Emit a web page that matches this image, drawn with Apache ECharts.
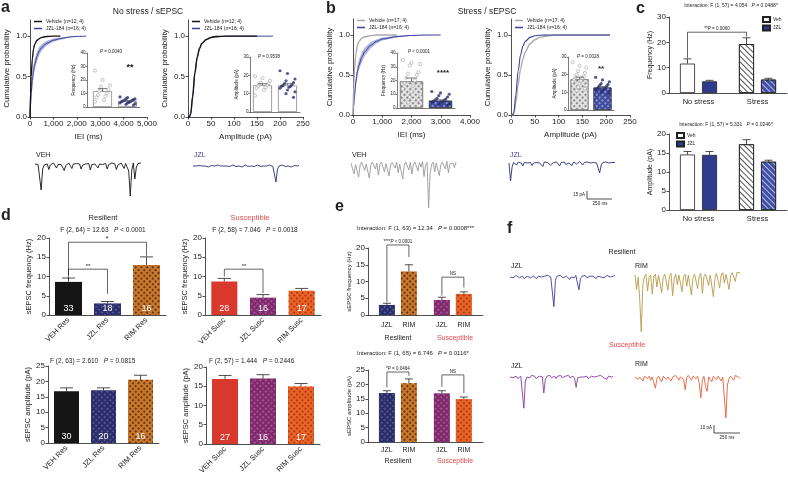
<!DOCTYPE html>
<html><head><meta charset="utf-8"><title>sEPSC figure</title>
<script src="https://cdn.jsdelivr.net/npm/echarts@6.0.0/dist/echarts.min.js"></script>
<style>html,body{margin:0;padding:0;background:#fff;}#chart{width:788px;height:477px;}</style>
</head><body><div id="chart"></div>
<script>
// ================= DATA =================
// a: no stress, cumulative distributions
const aIeiX      = [0,25,50,100,150,200,300,400,500,700,1000,1300,1700,2000,2400];
const aIeiVeh    = [0,0.30,0.50,0.72,0.84,0.90,0.95,0.97,0.985,0.995,1,1,null,null,null];
const aIeiJzl    = [0,0.15,0.28,0.45,0.57,0.65,0.75,0.82,0.86,0.91,0.95,0.97,0.99,0.997,1];
const aIeiJzlHi  = [0,0.20,0.35,0.53,0.64,0.72,0.81,0.87,0.90,0.94,0.97,0.985,0.996,1,1];
const aIeiJzlLo  = [0,0.11,0.22,0.38,0.50,0.58,0.69,0.77,0.82,0.88,0.93,0.955,0.984,0.994,1];
const aAmpX      = [0,3,6,10,15,20,25,30,40,50,60,80,100,150,185];
const aAmpVeh    = [0,0,0.04,0.25,0.55,0.74,0.85,0.91,0.96,0.985,0.995,1,1,1,null];
const aAmpJzl    = [0,0,0.04,0.24,0.54,0.73,0.84,0.905,0.955,0.98,0.99,0.998,1,1,1];
// a insets
const aFreqMean = [11.8, 4.3], aFreqSem = [1.8, 0.5];
const aFreqVehCells = [27,20,16,15,13,12,10,9,8,7,5,4];
const aFreqJzlCells = [7.5,7,6,6,5.5,5,5,4.5,4,4,3.5,3,3,2.5,2,1.5];
const aAmpMean = [14.6, 14.5], aAmpSem = [0.8, 0.9];
const aAmpVehCells = [19.5,18.5,17,16,15.5,15,14.5,14,13.5,13,12,9];
const aAmpJzlCells = [22.5,21,18,17,16,15.5,15,14.5,14,14,13.5,13,12,11,10,8];
// b: stress, cumulative distributions
const bIeiX      = [0,25,50,100,150,200,300,400,600,800,1000,1500,2000,2500,3000];
const bIeiVeh    = [0,0.36,0.56,0.77,0.87,0.92,0.96,0.978,0.992,1,1,1,null,null,null];
const bIeiJzl    = [0,0.12,0.24,0.42,0.54,0.62,0.72,0.79,0.87,0.92,0.95,0.98,0.995,1,1];
const bIeiJzlHi  = [0,0.16,0.30,0.49,0.61,0.69,0.78,0.84,0.91,0.945,0.97,0.99,1,1,1];
const bIeiJzlLo  = [0,0.09,0.19,0.36,0.48,0.56,0.66,0.74,0.83,0.895,0.93,0.97,0.99,0.998,1];
const bAmpX      = [0,3,6,10,15,20,25,30,40,50,60,80,100,150,208];
const bAmpVeh    = [0,0,0.02,0.15,0.38,0.57,0.70,0.79,0.89,0.94,0.97,0.99,1,1,1];
const bAmpJzl    = [0,0,0.03,0.25,0.55,0.75,0.86,0.92,0.97,0.99,0.996,1,1,1,1];
// b insets
const bFreqMean = [19.3, 5.3], bFreqSem = [2.5, 0.6];
const bFreqVehCells = [35,33,32,31,26,25,24,22,20,18,16,14,12,10,8,6,4];
const bFreqJzlCells = [12,11,10,9,8,7,6.5,6,5.5,5,4.5,4,3.5,3,2.5,2];
const bAmpMean = [17.4, 12.7], bAmpSem = [1.2, 0.5];
const bAmpVehCells = [27,25,24,22,21,20,19,18.5,18,17,16.5,16,15,14,13,12,11];
const bAmpJzlCells = [18.5,17,16,15,14.5,14,13.5,13,12.5,12,12,11.5,11,10.5,10,9];
// c: interaction
const cCats = ['No stress','Stress'];
const cFreqVeh = [11.6, 19.3], cFreqVehSem = [1.9, 2.5];
const cFreqJzl = [4.6, 5.3],   cFreqJzlSem = [0.4, 0.5];
const cAmpVeh  = [14.6, 17.3], cAmpVehSem  = [0.8, 1.2];
const cAmpJzl  = [14.5, 12.7], cAmpJzlSem  = [0.9, 0.4];
// d: resilient / susceptible
const dResCats = ['VEH Res','JZL Res','RIM Res'];
const dSusCats = ['VEH Susc','JZL Susc','RIM Susc'];
const dResFreq = [8.6, 3.0, 13.0], dResFreqSem = [1.0, 0.5, 2.1], dResFreqN = [33, 18, 16];
const dSusFreq = [8.7, 4.5, 6.3],  dSusFreqSem = [0.8, 0.8, 0.6], dSusFreqN = [28, 16, 17];
const dResAmp  = [16.8, 17.1, 20.5], dResAmpSem = [1.1, 0.8, 1.5], dResAmpN = [30, 20, 16];
const dSusAmp  = [16.9, 17.0, 14.9], dSusAmpSem = [0.9, 1.0, 0.8], dSusAmpN = [27, 16, 17];
// e: JZL vs RIM
const eLabels = ['JZL','RIM','JZL','RIM'];
const eGroups = ['Resilient','Susceptible'];
const eFreq = [3.0, 13.0, 4.5, 6.3], eFreqSem = [0.5, 2.0, 0.8, 0.6];
const eAmp  = [17.0, 20.4, 16.9, 14.9], eAmpSem = [0.8, 1.5, 0.9, 0.7];
// example traces (pA)
const trAVeh = [0,1,-1,-4,-52,-10,-2,1,0,-11,-2,1,2,0,-8,-1,1,-1,0,-13,-3,1,2,1,-9,0,-1,1,2,0,-10,-2,1,0,3,1,-12,-1,1,0,2,-8,0,1,-1,2,1,-10,-1,0,2,1,0,-11,-2,1,2,0,-9,1,0,-14,-64,-12,2,-30,-6,1,0,2];
const trAJzl = [0,1,0,-1,1,2,0,-1,0,1,-2,0,1,1,0,-1,2,1,0,-2,0,1,0,1,-1,0,2,1,-1,0,0,1,-2,1,2,0,-1,1,0,1,-1,0,2,0,-1,1,0,-3,0,1,2,0,-1,0,-32,-6,0,1,2,0,-1,1,0,1,-2,0,1,2,0,1];
const trBVeh = [0,2,-22,-3,1,-28,-4,2,0,-15,-2,1,-30,-5,2,1,-12,0,-24,-3,2,0,-18,-1,3,-26,-4,1,0,-10,2,-20,-2,1,-32,-5,2,0,-14,1,-22,-3,2,0,-16,1,-8,3,-27,-4,1,-90,-20,-3,2,-18,0,1,-25,-4,2,0,-12,3,-20,-2,1,0,-9,2];
const trBJzl = [0,-36,-8,1,0,-4,2,1,0,-6,1,3,0,-2,1,-5,0,2,1,-3,0,1,-7,2,0,1,3,-4,0,1,-2,2,0,-6,1,0,2,-3,1,0,1,-5,2,0,-2,1,3,0,-4,1,0,2,-1,0,-3,1,2,0,-2,-20,-4,1,0,2,1,0,-2,1,0,1];
const trFJzlRes = [0,1,-1,0,2,1,-1,0,1,-2,0,1,2,-1,0,1,0,-2,1,2,0,-1,1,0,2,1,0,-1,-37,-4,1,0,2,1,-1,0,1,2,-3,0,1,-1,2,0,-16,-2,1,0,2,-1,0,1,2,1,0,-2,1,2,0,1,-1,0,2,1,0,-1,1,2];
const trFRimRes = [0,-18,-3,-30,-71,-12,-2,1,-20,-3,0,-24,-2,1,-15,0,2,-22,-3,1,0,-19,-1,2,-26,-4,1,-12,0,2,-21,-2,1,-14,0,2,-25,-3,1,0,-17,-1,2,-23,-2,1,3,-13,0,2,-27,-4,2,1,-16,0,3,-10,1,2,-18,-1,3,2,-8,3,2,3];
const trFJzlSus = [0,1,-1,0,1,-2,0,1,2,-39,-5,0,1,-1,2,0,1,-2,0,1,2,0,-20,-3,1,0,2,-1,0,1,-2,1,0,2,-1,0,1,0,2,-1,0,1,-2,-13,-1,1,0,2,0,-1,1,-2,0,1,2,0,-1,1,0,2,1,-1,0,-3,1,2,0,1];
const trFRimSus = [0,1,-3,0,2,-5,1,0,-2,1,-4,0,2,-14,-2,1,0,-6,1,2,-3,0,1,-5,0,-2,2,1,-4,0,1,-3,-16,-1,2,0,-4,1,0,-2,1,-8,-26,-4,1,-12,-18,0,2,-6,1,0,-3,1,2,-5,0,1,-51,-10,-2,1,0,-4,2,1,0,-2];

// ================= STYLE / BUILD =================
const FONT = '"Liberation Sans", Arial, Helvetica, sans-serif';
const INK = '#222';
const COL = {black:'#151515', navy:'#2b2e72', blue:'#3a3f9c', band:'#aeb1da', grey:'#a9a9a9',
  rim:'#c8792c', rimDark:'#6a3512', red:'#d9382c', purple:'#7d2a6a', purpleL:'#a84e93',
  orange:'#ea6429', orangeDark:'#b13c10', tan:'#b89a48', traceRed:'#e8603a', traceSus:'#e04a4a'};
const grids=[], xAxis=[], yAxis=[], series=[], graphic=[], legend=[];

function merge(a,b){for(const k in b){const v=b[k];if(v&&typeof v==='object'&&!Array.isArray(v)&&a[k]&&typeof a[k]==='object'&&!Array.isArray(a[k]))merge(a[k],v);else a[k]=v;}return a;}
function mkGrid(l,t,w,h){grids.push({left:l,top:t,width:w,height:h});return grids.length-1;}
function axis(type,g,o){
  const base={type,gridIndex:g,axisLine:{show:true,onZero:false,lineStyle:{color:INK,width:0.8}},
    axisTick:{show:true,length:2.5,lineStyle:{color:INK,width:0.8}},splitLine:{show:false},
    axisLabel:{fontSize:8,color:INK,fontFamily:FONT,margin:3},
    nameTextStyle:{fontSize:8,color:INK,fontFamily:FONT}};
  return merge(base,o||{});
}
function addX(o){xAxis.push(o);return xAxis.length-1;}
function addY(o){yAxis.push(o);return yAxis.length-1;}
function text(x,y,str,o){o=o||{};const fs=o.size||8;const c=o.color||INK;
  graphic.push({type:'text',x,y,silent:true,z:50,style:{text:str,fontSize:fs,fontFamily:FONT,fill:c,
    fontWeight:o.bold?'bold':'normal',align:o.align||'center',verticalAlign:o.va||'middle',
    rich:{i:{fontStyle:'italic',fontSize:fs,fontFamily:FONT,fill:c}}}});}
function seg(x1,y1,x2,y2,w){graphic.push({type:'line',silent:true,z:50,shape:{x1,y1,x2,y2},style:{stroke:INK,lineWidth:w||0.8}});}
function hatch(c){return {symbol:'rect',symbolSize:1,color:c,dashArrayX:[1,0],dashArrayY:[1,2.2],rotation:Math.PI/4};}
function check(c){return {symbol:'rect',symbolSize:1,color:c,dashArrayX:[1.4,1.4],dashArrayY:[1.4,1.4],rotation:Math.PI/4};}

function errBars(xi,yi,pts,cap,color){
  series.push({type:'custom',xAxisIndex:xi,yAxisIndex:yi,data:pts,z:4,silent:true,clip:false,
    renderItem:(p,api)=>{const off=api.value(3)||0;const a=api.coord([api.value(0),api.value(1)]);
      const b=api.coord([api.value(0),api.value(1)+api.value(2)]);const x=a[0]+off;
      const st={stroke:color||INK,lineWidth:0.8};
      return {type:'group',children:[{type:'line',shape:{x1:x,y1:a[1],x2:x,y2:b[1]},style:st},
        {type:'line',shape:{x1:x-cap/2,y1:b[1],x2:x+cap/2,y2:b[1]},style:st}]};}});
}
function bracket(xi,yi,b,label,fs){
  series.push({type:'custom',xAxisIndex:xi,yAxisIndex:yi,data:[b],z:5,silent:true,clip:false,
    renderItem:(p,api)=>{const o1=api.value(5)||0,o2=api.value(6)||0;
      const p1=api.coord([api.value(0),api.value(1)]),t1=api.coord([api.value(0),api.value(2)]),p2=api.coord([api.value(3),api.value(4)]);
      const x1=p1[0]+o1,x2=p2[0]+o2;const f=fs||5;
      const ch=[{type:'polyline',shape:{points:[[x1,p1[1]],[x1,t1[1]],[x2,t1[1]],[x2,p2[1]]]},style:{stroke:INK,lineWidth:0.7,fill:'none'}}];
      if(label)ch.push({type:'text',x:(x1+x2)/2,y:t1[1]-1,style:{text:label,fontSize:f,fontFamily:FONT,fill:INK,align:'center',verticalAlign:'bottom',rich:{i:{fontStyle:'italic',fontSize:f,fontFamily:FONT,fill:INK}}}});
      return {type:'group',children:ch};}});
}
function band(xi,yi,xs,lo,hi,color){
  series.push({type:'custom',xAxisIndex:xi,yAxisIndex:yi,data:[[0,0]],z:1,silent:true,
    renderItem:(p,api)=>{const pts=[];xs.forEach((x,i)=>pts.push(api.coord([x,hi[i]])));
      for(let i=xs.length-1;i>=0;i--)pts.push(api.coord([xs[i],lo[i]]));
      return {type:'polygon',shape:{points:pts},style:{fill:color}};}});
}
function cdf(l,t,w,h,xmax,xint,xname,curves){
  const g=mkGrid(l,t,w,h);
  const xi=addX(axis('value',g,{min:0,max:xmax,interval:xint,name:xname,nameLocation:'middle',nameGap:16,
    axisLabel:{formatter:v=>v.toLocaleString('en-US')}}));
  const yi=addY(axis('value',g,{min:0,max:1.2,name:'Cumulative probability',nameLocation:'middle',nameGap:19,
    axisTick:{customValues:[0,0.5,1]},axisLabel:{customValues:[0,0.5,1],formatter:v=>v.toFixed(1)}}));
  curves.forEach(c=>{
    if(c.lo)band(xi,yi,c.x,c.lo,c.hi,c.band);
    series.push({type:'line',name:c.name,xAxisIndex:xi,yAxisIndex:yi,data:c.x.map((x,i)=>[x,c.y[i]]),
      symbol:'none',smooth:0.3,smoothMonotone:'x',lineStyle:{color:c.color,width:c.width||1.1},
      itemStyle:{color:c.color},z:c.z||3});
  });
}
function jit(i){return (((i*5)%11)-5)/5*0.3;}
function inset(l,t,w,h,xmin,xmax,ymax,yname,means,sems,cellsArr,barStyles,ptStyles,bw){
  const g=mkGrid(l,t,w,h);
  const xi=addX(axis('value',g,{min:xmin,max:xmax,axisTick:{show:false},axisLabel:{show:false},axisLine:{lineStyle:{width:0.6}}}));
  const yi=addY(axis('value',g,{min:0,max:ymax,interval:10,name:yname,nameLocation:'middle',nameGap:8,
    nameTextStyle:{fontSize:4.5},axisTick:{length:1.5,lineStyle:{width:0.6}},axisLine:{lineStyle:{width:0.6}},axisLabel:{fontSize:4.5,margin:1.5}}));
  series.push({type:'bar',xAxisIndex:xi,yAxisIndex:yi,barWidth:bw,z:2,
    data:means.map((m,i)=>({value:[i+1,m],itemStyle:barStyles[i]}))});
  errBars(xi,yi,means.map((m,i)=>[i+1,m,sems[i],0]),bw*0.5,'#555');
  cellsArr.forEach((cells,k)=>series.push({type:'scatter',xAxisIndex:xi,yAxisIndex:yi,symbolSize:3.2,z:3,
    itemStyle:ptStyles[k],data:cells.map((v,i)=>[k+1+jit(i),v])}));
}
function trace(l,base,w,arr,color,ppu,ymin,ymax){
  const g=mkGrid(l,base-ymax*ppu,w,(ymax-ymin)*ppu);
  const xi=addX({type:'value',gridIndex:g,min:0,max:arr.length-1,show:false});
  const yi=addY({type:'value',gridIndex:g,min:ymin,max:ymax,show:false});
  series.push({type:'line',xAxisIndex:xi,yAxisIndex:yi,data:arr.map((v,i)=>[i,v]),symbol:'none',
    lineStyle:{color,width:0.9},z:3,silent:true});
}
function dPanel(l,t,w,h,cats,vals,sems,ns,styles,ymax,yname,nameGap,bw){
  const g=mkGrid(l,t,w,h);
  const xi=addX(axis('category',g,{data:cats,axisTick:{show:false},axisLabel:{rotate:45,fontSize:7.5,margin:4,interval:0}}));
  const yi=addY(axis('value',g,{min:0,max:ymax,interval:5,name:yname,nameLocation:'middle',nameGap:nameGap,nameTextStyle:{fontSize:7.5}}));
  series.push({type:'bar',xAxisIndex:xi,yAxisIndex:yi,barWidth:bw,z:2,
    data:vals.map((v,i)=>({value:v,itemStyle:styles[i]})),
    label:{show:true,position:'insideBottom',distance:2,color:'#fff',fontSize:9,fontFamily:FONT,formatter:p=>String(ns[p.dataIndex])}});
  errBars(xi,yi,vals.map((v,i)=>[i,v,sems[i],0]),13,INK);
  return {xi,yi};
}

// ---------- panel letters & titles ----------
text(1,8,'a',{size:16,bold:true,align:'left'});
text(326,9,'b',{size:16,bold:true,align:'left'});
text(636,9,'c',{size:16,bold:true,align:'left'});
text(1,216,'d',{size:16,bold:true,align:'left'});
text(335,207,'e',{size:16,bold:true,align:'left'});
text(507,229,'f',{size:16,bold:true,align:'left'});
text(148,12,'No stress / sEPSC',{size:8.5});
text(487,12,'Stress / sEPSC',{size:8.5});

// ---------- a ----------
const legA = ['Vehicle (n=12; 4)','JZL-184 (n=16; 4)'];
const legB = ['Vehicle (n=17; 4)','JZL-184 (n=16; 4)'];
cdf(30,20,117,97,5000,1000,'IEI (ms)',[
  {x:aIeiX,y:aIeiJzl,lo:aIeiJzlLo,hi:aIeiJzlHi,band:COL.band,color:COL.blue,name:legA[1],width:1},
  {x:aIeiX,y:aIeiVeh,color:COL.black,name:legA[0],width:1.4,z:4}]);
cdf(188,20,115,97,250,50,'Amplitude (pA)',[
  {x:aAmpX,y:aAmpJzl,color:COL.blue,name:legA[1],width:1},
  {x:aAmpX,y:aAmpVeh,color:COL.black,name:legA[0],width:1.4,z:4}]);
const openPt={color:'#fff',borderColor:'#999',borderWidth:0.7};
const navyPt={color:COL.navy};
const whiteBar={color:'#fff',borderColor:'#888',borderWidth:0.8};
inset(87,53,53,54,0.38,2.5,40,'Frequency (Hz)',aFreqMean,aFreqSem,[aFreqVehCells,aFreqJzlCells],[whiteBar,whiteBar],[openPt,navyPt],19);
inset(250,57,50,55,0.5,2.5,30,'Amplitude (pA)',aAmpMean,aAmpSem,[aAmpVehCells,aAmpJzlCells],[whiteBar,whiteBar],[openPt,navyPt],19);
text(100,52,'{i|P} = 0.0040',{size:4.5,align:'left'});
text(130,68,'**',{size:9,bold:true});
text(258,57,'{i|P} = 0.9538',{size:4.5,align:'left'});

// ---------- b ----------
cdf(353,19,117,96,4000,1000,'IEI (ms)',[
  {x:bIeiX,y:bIeiJzl,lo:bIeiJzlLo,hi:bIeiJzlHi,band:COL.band,color:COL.blue,name:legB[1],width:1},
  {x:bIeiX,y:bIeiVeh,color:COL.grey,name:legB[0],width:1.4,z:4}]);
cdf(511,19,119,96,250,50,'Amplitude (pA)',[
  {x:bAmpX,y:bAmpVeh,color:COL.grey,name:legB[0],width:1.4},
  {x:bAmpX,y:bAmpJzl,color:COL.blue,name:legB[1],width:1.1,z:4}]);
const greyHatchBar={color:'#e2e2e2',borderColor:'#777',borderWidth:0.6,decal:check('#8a8a8a')};
const blueHatchBar={color:'#3d4aa0',borderColor:'#333',borderWidth:0.6,decal:check('#8d94cc')};
inset(397,53,58,55,0.5,2.5,40,'Frequency (Hz)',bFreqMean,bFreqSem,[bFreqVehCells,bFreqJzlCells],[greyHatchBar,blueHatchBar],[openPt,navyPt],23);
inset(568,57,46,53,0.5,2.5,30,'Amplitude (pA)',bAmpMean,bAmpSem,[bAmpVehCells,bAmpJzlCells],[greyHatchBar,blueHatchBar],[openPt,navyPt],18);
text(408,52,'{i|P} < 0.0001',{size:4.5,align:'left'});
text(443,73,'****',{size:8,bold:true});
text(577,57,'{i|P} = 0.0028',{size:4.5,align:'left'});
text(601,69,'**',{size:8,bold:true});

// legends
const legCommon={orient:'vertical',itemWidth:8,itemHeight:1.5,itemGap:2,icon:'rect',selectedMode:false,padding:0,
  textStyle:{fontSize:5,fontFamily:FONT,color:INK,padding:[0,0,0,-1]}};
legend.push(merge({data:legA,left:34,top:19},JSON.parse(JSON.stringify(legCommon))));
legend.push(merge({data:legA,left:192,top:19},JSON.parse(JSON.stringify(legCommon))));
legend.push(merge({data:legB,left:357,top:18},JSON.parse(JSON.stringify(legCommon))));
legend.push(merge({data:legB,left:515,top:18},JSON.parse(JSON.stringify(legCommon))));

// traces a/b
trace(35,164,106,trAVeh,COL.black,0.5,-70,6);
trace(193,166,106,trAJzl,COL.navy,0.5,-70,6);
trace(351,163,105,trBVeh,'#9a9a9a',0.5,-95,6);
trace(509,163,106,trBJzl,COL.navy,0.5,-95,6);
text(36,155,'VEH',{size:7,align:'left'});
text(194,155,'JZL',{size:7,align:'left',color:COL.blue});
text(352,155,'VEH',{size:7,align:'left'});
text(510,155,'JZL',{size:7,align:'left',color:COL.blue});
seg(587,191,587,199);seg(587,199,612,199);
text(585,195,'15 pA',{size:4.5,align:'right'});
text(600,204,'250 ms',{size:4.5});

// ---------- c ----------
function cPanel(t,ymax,yint,yname,veh,vehSem,jzl,jzlSem){
  const g=mkGrid(669,t,118,76);
  const xi=addX(axis('category',g,{data:cCats,axisTick:{show:false},axisLabel:{fontSize:7.5,margin:5}}));
  const yi=addY(axis('value',g,{min:0,max:ymax,interval:yint,name:yname,nameLocation:'middle',nameGap:15,nameTextStyle:{fontSize:7}}));
  series.push({type:'bar',name:'Veh',xAxisIndex:xi,yAxisIndex:yi,barWidth:15,barGap:'47%',z:2,
    itemStyle:{color:'#fff',borderColor:INK,borderWidth:0.8},
    data:[{value:veh[0]},{value:veh[1],itemStyle:{color:'#fff',decal:hatch('#555')}}]});
  series.push({type:'bar',name:'JZL',xAxisIndex:xi,yAxisIndex:yi,barWidth:15,z:2,
    itemStyle:{color:'#2e3a8c',borderColor:INK,borderWidth:0.8},
    data:[{value:jzl[0]},{value:jzl[1],itemStyle:{color:'#4250a4',decal:hatch('#b3b9e6')}}]});
  errBars(xi,yi,[[0,veh[0],vehSem[0],-11],[1,veh[1],vehSem[1],-11],[0,jzl[0],jzlSem[0],11],[1,jzl[1],jzlSem[1],11]],8,INK);
  return {xi,yi};
}
const cTop=cPanel(17,30,10,'Frequency (Hz)',cFreqVeh,cFreqVehSem,cFreqJzl,cFreqJzlSem);
bracket(cTop.xi,cTop.yi,[0,13.9,24,1,22.3,-11,-11],'**{i|P} = 0.0060',4.5);
cPanel(134,20,5,'Amplitude (pA)',cAmpVeh,cAmpVehSem,cAmpJzl,cAmpJzlSem);
text(731,6,'Interaction: F (1, 57) = 4.054   {i|P} = 0.0488*',{size:5});
text(726,125,'Interaction: F (1, 57) = 5.331   {i|P} = 0.0246*',{size:5});
const legC={orient:'vertical',itemWidth:7,itemHeight:5,itemGap:1.5,icon:'rect',selectedMode:false,padding:0,
  data:['Veh','JZL'],textStyle:{fontSize:5,fontFamily:FONT,color:INK,padding:[0,0,0,-2]}};
legend.push(merge({left:762,top:16},JSON.parse(JSON.stringify(legC))));
legend.push(merge({left:676,top:132},JSON.parse(JSON.stringify(legC))));

// ---------- d ----------
const dResStyles=[{color:COL.black},{color:'#2a2c66',decal:check('#4f539a')},{color:COL.rim,decal:check(COL.rimDark)}];
const dSusStyles=[{color:COL.red},{color:COL.purple,decal:check(COL.purpleL)},{color:COL.orange,decal:check(COL.orangeDark)}];
const d1=dPanel(49,238,117,77,dResCats,dResFreq,dResFreqSem,dResFreqN,dResStyles,20,'sEPSC frequency (Hz)',15,27);
bracket(d1.xi,d1.yi,[0,9.3,18.9,2,15.4],null);
bracket(d1.xi,d1.yi,[0,10.4,11.9,1,5.5],null);
text(107,239,'*',{size:7});
text(88,266,'**',{size:6});
const d2=dPanel(205,238,116,77,dSusCats,dSusFreq,dSusFreqSem,dSusFreqN,dSusStyles,20,'sEPSC frequency (Hz)',15,26);
bracket(d2.xi,d2.yi,[0,10.0,11.9,1,5.7],null);
text(244,266,'**',{size:6});
dPanel(48,366,111,77,dResCats,dResAmp,dResAmpSem,dResAmpN,dResStyles,25,'sEPSC amplitude (pA)',15,25);
dPanel(206,367,114,77,dSusCats,dSusAmp,dSusAmpSem,dSusAmpN,dSusStyles,20,'sEPSC amplitude (pA)',16,26);
text(103,218,'Resilient',{size:7.5});
text(103,230,'F (2, 64) = 12.63   {i|P} < 0.0001',{size:6.5});
text(250,218,'Susceptible',{size:7.5,color:COL.traceSus});
text(255,230,'F (2, 58) = 7.046   {i|P} = 0.0018',{size:6.5});
text(50,361,'F (2, 63) = 2.610   {i|P} = 0.0815',{size:6.5,align:'left'});
text(209,361,'F (2, 57) = 1.444   {i|P} = 0.2446',{size:6.5,align:'left'});

// ---------- e ----------
const ePos=eLabels.map((_,i)=>i+1+(i>=2?0.5:0));
const eStyles=[{color:'#2a2c66',decal:check('#4f539a')},{color:COL.rim,decal:check(COL.rimDark)},{color:COL.purple,decal:check(COL.purpleL)},{color:COL.orange,decal:check(COL.orangeDark)}];
function ePanel(t,h,ymax,vals,sems,yname,lm){
  const g=mkGrid(368,t,115,h);
  const xi=addX(axis('value',g,{min:0.14,max:5.37,axisTick:{show:false},
    axisLabel:{customValues:ePos,fontSize:7,margin:lm,formatter:v=>eLabels[ePos.indexOf(v)]||''}}));
  const yi=addY(axis('value',g,{min:0,max:ymax,interval:5,name:yname,nameLocation:'middle',nameGap:12,nameTextStyle:{fontSize:6}}));
  series.push({type:'bar',xAxisIndex:xi,yAxisIndex:yi,barWidth:16,z:2,data:vals.map((v,i)=>({value:[ePos[i],v],itemStyle:eStyles[i]}))});
  errBars(xi,yi,vals.map((v,i)=>[ePos[i],v,sems[i],0]),8,INK);
  return {xi,yi};
}
const e1=ePanel(248,67,20,eFreq,eFreqSem,'sEPSC frequency (Hz)',7);
bracket(e1.xi,e1.yi,[ePos[0],3.8,20.9,ePos[1],17.3],'****{i|P} < 0.0001',4.5);
bracket(e1.xi,e1.yi,[ePos[2],5.8,11.3,ePos[3],8.2],'NS',4.5);
const e2=ePanel(370,72,25,eAmp,eAmpSem,'sEPSC amplitude (pA)',5);
bracket(e2.xi,e2.yi,[ePos[0],19.0,24.3,ePos[1],23.0],'*{i|P} = 0.0464',4.5);
bracket(e2.xi,e2.yi,[ePos[2],19.2,23.3,ePos[3],17.0],'NS',4.5);
text(357,228,'Interaction: F (1, 63) = 12.34   {i|P} = 0.0008***',{size:6,align:'left'});
text(357,353,'Interaction: F (1, 65) = 6.746   {i|P} = 0.0116*',{size:6,align:'left'});
text(398,338,eGroups[0],{size:7});
text(455,338,eGroups[1],{size:7,color:COL.traceSus});
text(398,461,eGroups[0],{size:7});
text(455,461,eGroups[1],{size:7,color:COL.traceSus});

// ---------- f ----------
trace(510,277,105,trFJzlRes,COL.blue,0.8,-75,5);
trace(635,275,105,trFRimRes,COL.tan,0.8,-75,5);
trace(510,377,103,trFJzlSus,'#8a3aa0',0.8,-75,5);
trace(635,377,105,trFRimSus,COL.traceRed,0.8,-75,5);
text(622,252,'Resilient',{size:7});
text(511,266,'JZL',{size:7,align:'left'});
text(635,266,'RIM',{size:7,align:'left'});
text(627,345,'Susceptible',{size:7,color:COL.traceSus});
text(511,366,'JZL',{size:7,align:'left'});
text(635,364,'RIM',{size:7,align:'left'});
seg(714,425,714,433);seg(714,433,740,433);
text(712,428,'10 pA',{size:4.5,align:'right'});
text(727,438,'250 ms',{size:4.5});

const chart=echarts.init(document.getElementById('chart'),null,{renderer:'canvas'});
chart.setOption({animation:false,backgroundColor:'#fff',textStyle:{fontFamily:FONT},
  grid:grids,xAxis:xAxis,yAxis:yAxis,series:series,legend:legend,graphic:graphic});
</script></body></html>
